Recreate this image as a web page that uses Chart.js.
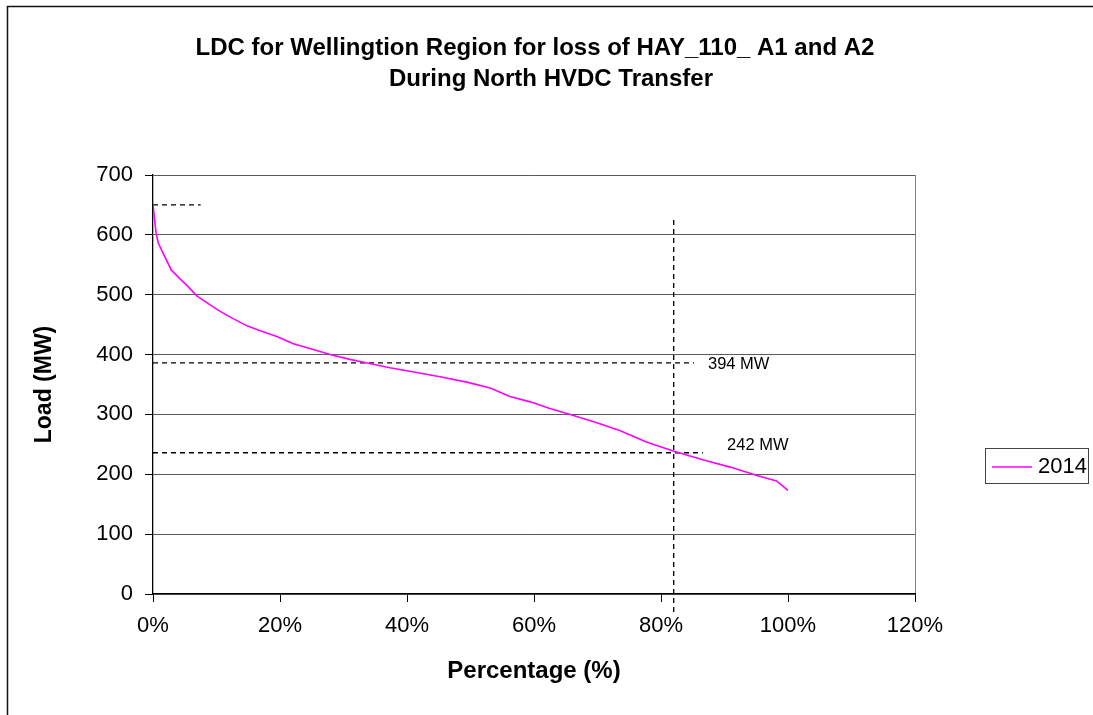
<!DOCTYPE html>
<html lang="en">
<head>
    <meta charset="UTF-8">
    <title>LDC Wellington</title>
    <script src="https://cdn.jsdelivr.net/npm/chart.js"></script>
    <style>
        html, body { margin: 0; padding: 0; background: #fff; }
        canvas { display: block; }
    </style>
</head>
<body>
<canvas id="ldcChart" width="1093" height="715"></canvas>
<script>
// Load duration curve
const seriesName = '2014';
const pctValues  = [0, 0.5, 0.85, 1.6, 2.9, 4.5, 5.3, 6.9, 10, 12.1, 14.8, 16.9, 19.5, 22.1, 24.7, 27.9, 31, 33.7, 37.3, 41.5, 45.2, 49.4, 53.1, 56.2, 59.4, 62.5, 65.7, 69.9, 73.5, 77.7, 81.9, 86.7, 90.9, 95.1, 98.2, 100];
const loadValues = [650, 602, 586, 569, 541, 524, 516, 498, 476, 463, 448, 440, 430, 418, 410, 400, 392, 386, 378, 370, 363, 354, 344, 330, 321, 310, 300, 286, 273, 254, 239, 224, 212, 198, 189, 173];

// dashed marker lines (x in %, y in MW)
const peakLineX  = [0, 7.5];
const peakLineY  = [650, 650];
const upperLineX = [0, 85.2];
const upperLineY = [386, 386];
const lowerLineX = [0, 86.6];
const lowerLineY = [236, 236];
const vertLineX  = [82, 82];
const vertLineY  = [-30, 630];

// labels beside the marker lines
const noteTexts = ['394 MW', '242 MW'];
const noteX = [87.4, 90.4];
const noteY = [383, 249];

const xTicks = [0, 20, 40, 60, 80, 100, 120];
const yTicks = [0, 100, 200, 300, 400, 500, 600, 700];

function toPoints(xs, ys) {
    return xs.map((x, i) => ({ x: x, y: ys[i] }));
}

function dashed(xs, ys) {
    return {
        label: '',
        data: toPoints(xs, ys),
        borderColor: '#000',
        borderWidth: 1.3,
        borderDash: [5, 4],
        pointRadius: 0,
        fill: false,
        clip: false
    };
}

const FONT = '"Liberation Sans", Arial, sans-serif';

// title, frame, notes and legend drawn by hand
const extrasPlugin = {
    id: 'extras',
    afterDraw(chart) {
        const ctx = chart.ctx;
        const xs = chart.scales.x, ys = chart.scales.y;
        ctx.save();

        // outer frame
        ctx.strokeStyle = '#111';
        ctx.lineWidth = 1.5;
        ctx.beginPath();
        ctx.moveTo(7.5, 715);
        ctx.lineTo(7.5, 6.5);
        ctx.lineTo(1093, 6.5);
        ctx.stroke();

        // title
        ctx.fillStyle = '#000';
        ctx.font = 'bold 24px ' + FONT;
        ctx.textAlign = 'center';
        ctx.textBaseline = 'alphabetic';
        ctx.fillText('LDC for Wellingtion Region for loss of HAY_110_ A1 and A2', 535, 55);
        ctx.fillText('During North HVDC Transfer', 551, 86);

        // notes
        ctx.font = '16.5px ' + FONT;
        ctx.textAlign = 'left';
        ctx.textBaseline = 'middle';
        noteTexts.forEach((t, i) => {
            ctx.fillText(t, xs.getPixelForValue(noteX[i]), ys.getPixelForValue(noteY[i]));
        });

        // legend
        ctx.strokeStyle = '#444';
        ctx.lineWidth = 1;
        ctx.strokeRect(985.5, 448.5, 103, 35);
        ctx.strokeStyle = chart.data.datasets[0].borderColor;
        ctx.lineWidth = 1.5;
        ctx.beginPath();
        ctx.moveTo(992, 467);
        ctx.lineTo(1032, 467);
        ctx.stroke();
        ctx.fillStyle = '#000';
        ctx.font = '22px ' + FONT;
        ctx.fillText(chart.data.datasets[0].label, 1038, 467);

        ctx.restore();
    }
};

new Chart(document.getElementById('ldcChart'), {
    type: 'line',
    data: {
        datasets: [
            {
                label: seriesName,
                data: toPoints(pctValues, loadValues),
                borderColor: '#FF00FF',
                borderWidth: 1.6,
                pointRadius: 0,
                fill: false,
                tension: 0
            },
            dashed(peakLineX, peakLineY),
            dashed(upperLineX, upperLineY),
            dashed(lowerLineX, lowerLineY),
            dashed(vertLineX, vertLineY)
        ]
    },
    options: {
        responsive: false,
        animation: false,
        devicePixelRatio: 1,
        layout: { padding: { left: 0, top: 175, right: 178, bottom: 0 } },
        plugins: {
            legend: { display: false },
            tooltip: { enabled: false }
        },
        scales: {
            x: {
                type: 'linear',
                min: 0,
                max: 120,
                afterBuildTicks: s => { s.ticks = xTicks.map(v => ({ value: v })); },
                afterFit: s => { s.height = 121; },
                ticks: {
                    padding: 11,
                    color: '#000',
                    font: { family: FONT, size: 22 },
                    callback: v => v + '%'
                },
                grid: {
                    drawOnChartArea: true,
                    color: c => (c.tick && c.tick.value === 120) ? '#808080' : 'rgba(0,0,0,0)',
                    tickColor: '#000',
                    tickLength: 8
                },
                border: { color: '#000', width: 1.3 },
                title: {
                    display: true,
                    text: 'Percentage (%)',
                    color: '#000',
                    font: { family: FONT, size: 24, weight: 'bold' },
                    padding: { top: 0, bottom: 29 }
                }
            },
            y: {
                min: 0,
                max: 700,
                afterBuildTicks: s => { s.ticks = yTicks.map(v => ({ value: v })); },
                afterFit: s => { s.width = 153; },
                ticks: {
                    padding: 12,
                    color: '#000',
                    font: { family: FONT, size: 22 }
                },
                grid: {
                    color: '#5a5a5a',
                    tickColor: '#000',
                    tickLength: 8
                },
                border: { color: '#000', width: 1.3 },
                title: {
                    display: true,
                    text: 'Load (MW)',
                    color: '#000',
                    font: { family: FONT, size: 23, weight: 'bold' },
                    padding: { top: 31, bottom: 0 }
                }
            }
        }
    },
    plugins: [extrasPlugin]
});
</script>
</body>
</html>
